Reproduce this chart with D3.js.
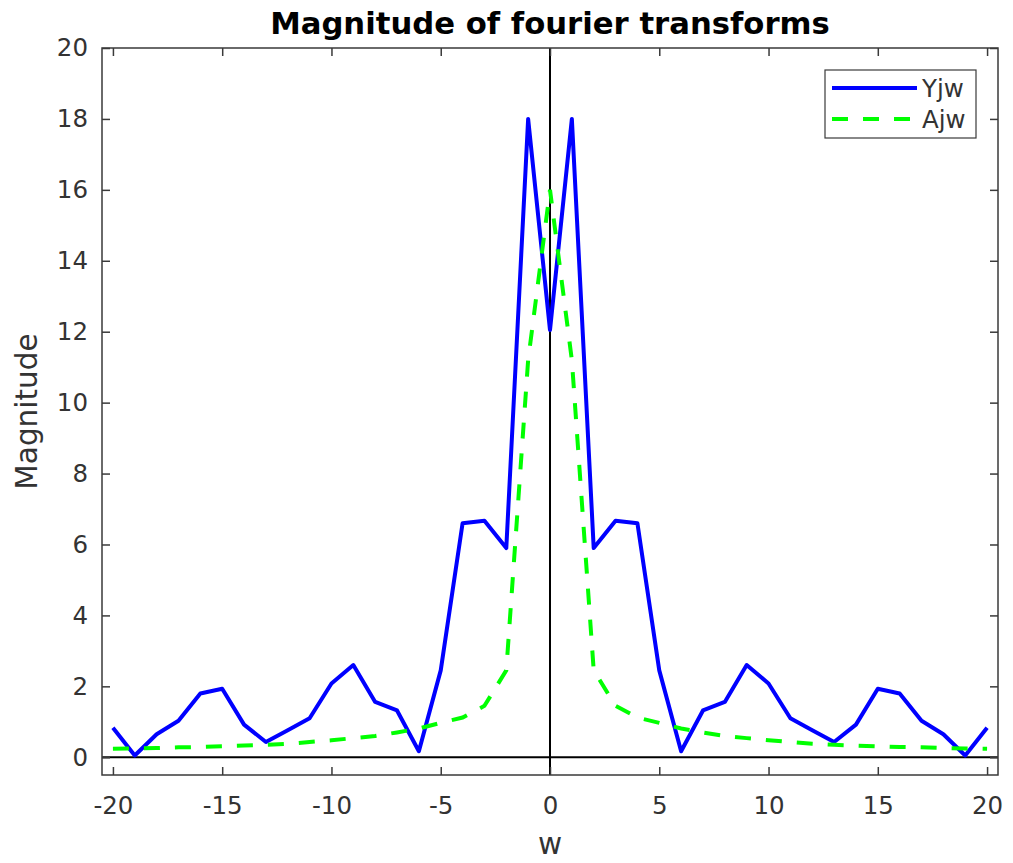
<!DOCTYPE html>
<html>
<head>
<meta charset="utf-8">
<script src="https://cdn.jsdelivr.net/npm/d3@7"></script>
<style>
  html, body { margin: 0; padding: 0; background: #fff; }
  svg { display: block; }
  text { font-family: "DejaVu Sans", sans-serif; }
</style>
</head>
<body>
<svg id="chart" width="1013" height="863"></svg>
<script>
// ---- data ----
const wValues = [-20,-19,-18,-17,-16,-15,-14,-13,-12,-11,-10,-9,-8,-7,-6,-5,-4,-3,-2,-1,0,1,2,3,4,5,6,7,8,9,10,11,12,13,14,15,16,17,18,19,20];
const yjw = [0.83,0.05,0.65,1.03,1.80,1.93,0.92,0.43,0.76,1.10,2.08,2.60,1.56,1.32,0.17,2.45,6.60,6.67,5.90,18.0,12.05,
             18.0,5.90,6.67,6.60,2.45,0.17,1.32,1.56,2.60,2.08,1.10,0.76,0.43,0.92,1.93,1.80,1.03,0.65,0.05,0.83];
const ajw = [0.24,0.25,0.26,0.28,0.29,0.31,0.33,0.35,0.38,0.43,0.48,0.54,0.60,0.70,0.81,0.97,1.12,1.45,2.45,11.2,16.0,
             11.2,2.45,1.45,1.12,0.97,0.81,0.70,0.60,0.54,0.48,0.43,0.38,0.35,0.33,0.31,0.29,0.28,0.26,0.25,0.24];
const xTicks = [-20,-15,-10,-5,0,5,10,15,20];
const yTicks = [0,2,4,6,8,10,12,14,16,18,20];
const seriesNames = ["Yjw","Ajw"];
const titleText = "Magnitude of fourier transforms";
const xLabelText = "w";
const yLabelText = "Magnitude";

// ---- layout ----
const svg = d3.select("#chart");
const L = 102, R = 998, T = 48, B = 775;
const x = d3.scaleLinear().domain([-20.5, 20.5]).range([L, R]);
const y = d3.scaleLinear().domain([-0.5, 20]).range([B, T]);
const axisColor = "#3a3a3a";
const textColor = "#333333";

const g = svg.append("g");

// zero lines
g.append("line").attr("x1", L).attr("x2", R).attr("y1", y(0)).attr("y2", y(0))
  .attr("stroke", "#000").attr("stroke-width", 2);
g.append("line").attr("x1", x(0)).attr("x2", x(0)).attr("y1", T).attr("y2", B)
  .attr("stroke", "#000").attr("stroke-width", 2);

// series
const line = d3.line().x((d, i) => x(wValues[i])).y(d => y(d));
g.append("path").datum(yjw).attr("d", line).attr("fill", "none")
  .attr("stroke", "#0000ff").attr("stroke-width", 4).attr("stroke-linejoin", "round");
g.append("path").datum(ajw).attr("d", line).attr("fill", "none")
  .attr("stroke", "#00ff00").attr("stroke-width", 4).attr("stroke-dasharray", "16,15");

// axes (ticks inside, box)
const tickLen = 8;
const fmt = d => String(d);
const xb = d3.axisBottom(x).tickValues(xTicks).tickSize(-tickLen).tickPadding(22).tickFormat(fmt);
const xt = d3.axisTop(x).tickValues(xTicks).tickSize(-tickLen).tickFormat("");
const yl = d3.axisLeft(y).tickValues(yTicks).tickSize(-tickLen).tickPadding(14).tickFormat(fmt);
const yr = d3.axisRight(y).tickValues(yTicks).tickSize(-tickLen).tickFormat("");

function styleAxis(sel) {
  sel.select(".domain").remove();
  sel.selectAll(".tick line").attr("stroke", axisColor).attr("stroke-width", 1.5);
  sel.selectAll(".tick text").attr("fill", textColor).style("font-size", "24.5px")
     .style("font-family", "'DejaVu Sans', sans-serif");
}
svg.append("g").attr("transform", `translate(0,${B})`).call(xb).call(styleAxis);
svg.append("g").attr("transform", `translate(0,${T})`).call(xt).call(styleAxis);
svg.append("g").attr("transform", `translate(${L},0)`).call(yl).call(styleAxis);
svg.append("g").attr("transform", `translate(${R},0)`).call(yr).call(styleAxis);

svg.append("rect").attr("x", L).attr("y", T).attr("width", R - L).attr("height", B - T)
  .attr("fill", "none").attr("stroke", axisColor).attr("stroke-width", 1.5);

// title & labels
svg.append("text").attr("x", (L + R) / 2).attr("y", 34).attr("text-anchor", "middle")
  .style("font-size", "30.7px").style("font-weight", "bold").attr("fill", "#000").text(titleText);
svg.append("text").attr("x", x(0)).attr("y", 854).attr("text-anchor", "middle")
  .style("font-size", "29.5px").attr("fill", textColor).text(xLabelText);
svg.append("text").attr("transform", `translate(37,${(T + B) / 2}) rotate(-90)`).attr("text-anchor", "middle")
  .style("font-size", "29.5px").attr("fill", textColor).text(yLabelText);

// legend
const lg = svg.append("g");
lg.append("rect").attr("x", 825).attr("y", 70).attr("width", 151).attr("height", 68)
  .attr("fill", "#fff").attr("stroke", axisColor).attr("stroke-width", 1.2);
const legendY = [88, 119];
const styles = [{ c: "#0000ff", d: null }, { c: "#00ff00", d: "16,15" }];
seriesNames.forEach((n, i) => {
  const ln = lg.append("line").attr("x1", 832).attr("x2", 917).attr("y1", legendY[i]).attr("y2", legendY[i])
    .attr("stroke", styles[i].c).attr("stroke-width", 4);
  if (styles[i].d) ln.attr("stroke-dasharray", styles[i].d);
  lg.append("text").attr("x", 922).attr("y", legendY[i]).attr("dy", "0.35em")
    .style("font-size", "24.5px").attr("fill", textColor).text(n);
});
</script>
</body>
</html>
